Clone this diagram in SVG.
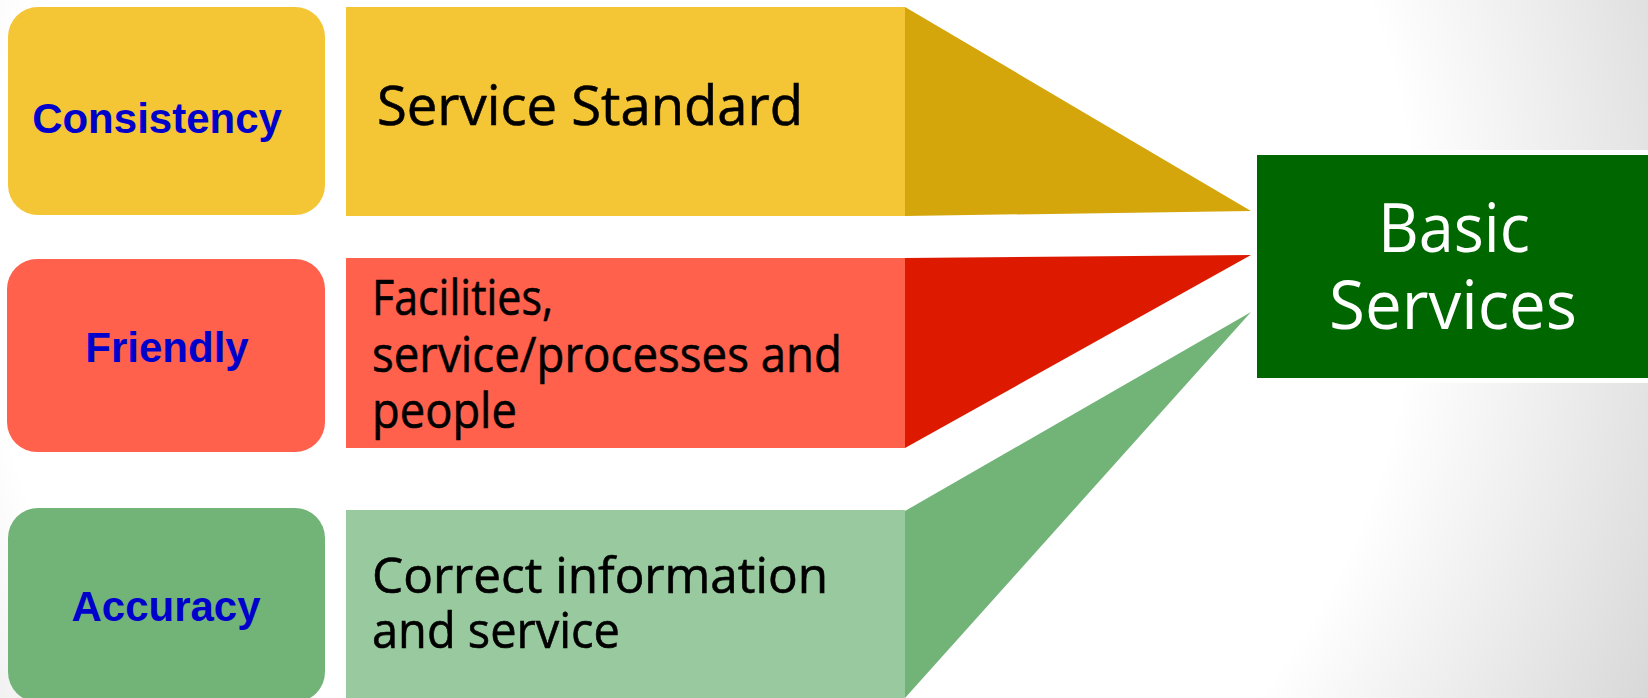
<svg xmlns="http://www.w3.org/2000/svg" width="1648" height="698" viewBox="0 0 1648 698">
  <defs>
    <radialGradient id="bg" gradientUnits="userSpaceOnUse" cx="700" cy="250" r="1050">
      <stop offset="0" stop-color="#ffffff"/>
      <stop offset="0.68" stop-color="#ffffff"/>
      <stop offset="1" stop-color="#d8d8d8"/>
    </radialGradient>
    <style>
      .tag { font-family: "Liberation Sans", Arial, sans-serif; font-weight: bold; font-size: 42px; fill: #0000cc; text-anchor: middle; }
      .desc { font-family: "Open Sans", "Noto Sans", sans-serif; font-size: 50px; fill: #000000; stroke: #000000; stroke-width: 0.6px; }
      .big { font-size: 55px; }
      .hub { font-family: "Open Sans", "Noto Sans", sans-serif; font-size: 68px; fill: #ffffff; }
    </style>
  </defs>

  <!-- page background -->
  <rect x="0" y="0" width="1648" height="698" fill="url(#bg)"/>

  <!-- wedges leading into the hub -->
  <g id="connectors">
    <polygon points="905,7 1251,211 905,216" fill="#d4a60b"/>
    <polygon points="905,258 1251,255 905,448" fill="#dd1a00"/>
    <polygon points="905,511 1251,312 905,698" fill="#72b478"/>
  </g>

  <!-- row 1 -->
  <g id="consistency">
    <rect x="8" y="7" width="317" height="208" rx="30" fill="#f4c534"/>
    <text class="tag" x="157" y="133">Consistency</text>
  </g>
  <g id="service-standard">
    <rect x="346" y="7" width="559" height="209" fill="#f4c534"/>
    <text class="desc big" x="377" y="125" textLength="426" lengthAdjust="spacingAndGlyphs">Service Standard</text>
  </g>

  <!-- row 2 -->
  <g id="friendly">
    <rect x="7" y="259" width="318" height="193" rx="30" fill="#ff614d"/>
    <text class="tag" x="167" y="362">Friendly</text>
  </g>
  <g id="facilities">
    <rect x="346" y="258" width="559" height="190" fill="#ff614d"/>
    <text class="desc" x="372" y="315" textLength="181" lengthAdjust="spacingAndGlyphs">Facilities,</text>
    <text class="desc" x="372" y="372" textLength="470" lengthAdjust="spacingAndGlyphs">service/processes and</text>
    <text class="desc" x="372" y="428" textLength="145" lengthAdjust="spacingAndGlyphs">people</text>
  </g>

  <!-- row 3 -->
  <g id="accuracy">
    <rect x="8" y="508" width="317" height="194" rx="30" fill="#72b478"/>
    <text class="tag" x="166" y="621">Accuracy</text>
  </g>
  <g id="correct-information">
    <rect x="346" y="510" width="559" height="188" fill="#99ca9f"/>
    <text class="desc" x="372" y="593" textLength="456" lengthAdjust="spacingAndGlyphs">Correct information</text>
    <text class="desc" x="372" y="648" textLength="248" lengthAdjust="spacingAndGlyphs">and service</text>
  </g>

  <!-- hub -->
  <g id="basic-services">
    <rect x="1252" y="150" width="400" height="233" fill="#ffffff"/>
    <rect x="1257" y="155" width="395" height="223" fill="#006600"/>
    <text class="hub" x="1378" y="252" textLength="152" lengthAdjust="spacingAndGlyphs">Basic</text>
    <text class="hub" x="1329" y="329" textLength="248" lengthAdjust="spacingAndGlyphs">Services</text>
  </g>
</svg>
